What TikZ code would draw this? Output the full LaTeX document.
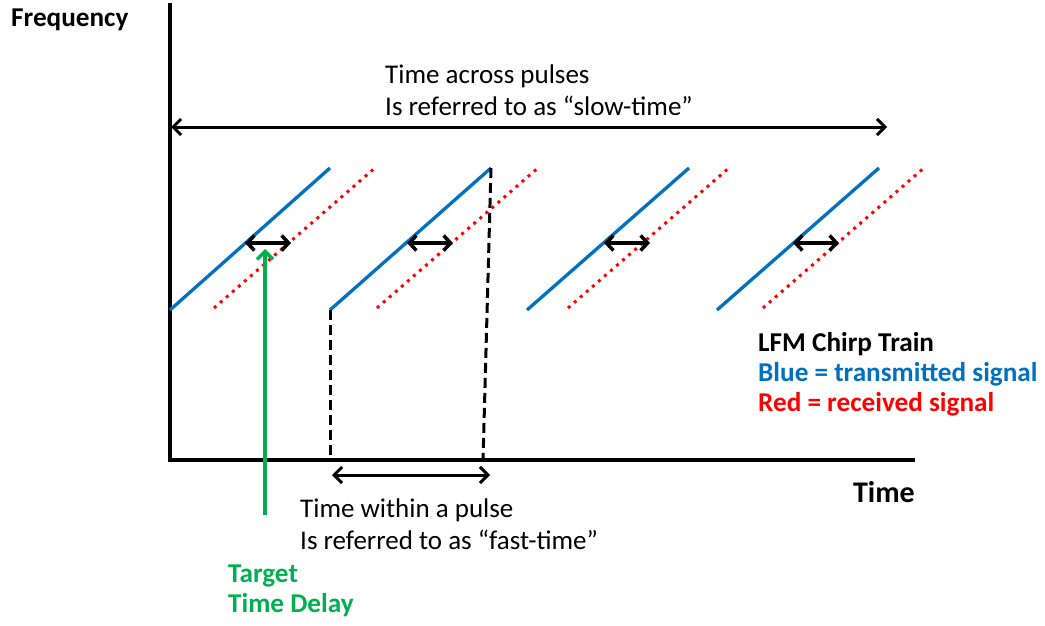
\documentclass[tikz,border=0pt]{standalone}
\usepackage{fontspec}
\setmainfont{Carlito}
\usetikzlibrary{arrows.meta}
\definecolor{txblue}{HTML}{0070C0}
\definecolor{rxred}{HTML}{FF0000}
\definecolor{tgreen}{HTML}{00B050}
\begin{document}
\begin{tikzpicture}[x=1pt,y=-1pt,
  axis/.style={line width=3.5pt},
  tx/.style={line width=3.3pt,txblue},
  rx/.style={line width=3pt,rxred,dash pattern=on 3pt off 5pt},
  delay/.style={line width=3.5pt,{Straight Barb[length=7pt,width=15pt]}-{Straight Barb[length=7pt,width=15pt]}},
  span/.style={line width=3pt,{Straight Barb[length=8pt,width=16pt]}-{Straight Barb[length=8pt,width=16pt]}},
  guide/.style={line width=3pt,dash pattern=on 10pt off 5pt},
  lbl/.style={font=\fontsize{27}{31}\selectfont,inner sep=0pt,anchor=base west},
  blbl/.style={font=\fontsize{27.2}{31}\selectfont\bfseries,inner sep=0pt,anchor=base west}
]
\useasboundingbox (0,0) rectangle (1045,626);
% axes
\coordinate (ytop) at (170,3);
\coordinate (orig) at (170,460);
\coordinate (xend) at (915,460);
\draw[axis] (ytop) -- (orig) -- (xend);
% slow-time arrow
\coordinate (s1) at (171,127);
\coordinate (s2) at (887,127);
\draw[span] (s1) -- (s2);
\node[lbl] (slow1) at (385,84) {Time across pulses};
\node[lbl] (slow2) at (385,115.5) {Is referred to as “slow-time”};
% chirps
\coordinate (b1a) at (170,310); \coordinate (b1b) at (330,168);
\coordinate (b2a) at (330,310); \coordinate (b2b) at (491,168);
\coordinate (b3a) at (527,310); \coordinate (b3b) at (689,168);
\coordinate (b4a) at (717,310); \coordinate (b4b) at (879,168);
\coordinate (r1a) at (214,308); \coordinate (r1b) at (376,167);
\coordinate (r2a) at (377,308); \coordinate (r2b) at (539,167);
\coordinate (r3a) at (568,308); \coordinate (r3b) at (730,167);
\coordinate (r4a) at (763,308); \coordinate (r4b) at (925,167);
\foreach \i in {1,2,3,4}{
  \draw[rx] (r\i a) -- (r\i b);
  \draw[tx] (b\i a) -- (b\i b);
}
% delay arrows
\coordinate (d1a) at (245,243); \coordinate (d1b) at (291,243);
\coordinate (d2a) at (407,243); \coordinate (d2b) at (453,243);
\coordinate (d3a) at (604,243); \coordinate (d3b) at (650,243);
\coordinate (d4a) at (793,243); \coordinate (d4b) at (839,243);
\foreach \i in {1,2,3,4}{
  \draw[delay] (d\i a) -- (d\i b);
}
% pulse guides
\coordinate (g1) at (330,460);
\coordinate (g2) at (483,460);
\draw[guide] (b2a) -- (g1);
\draw[guide] (b2b) -- (g2);
% fast-time arrow
\coordinate (f1) at (332,475);
\coordinate (f2) at (490,475);
\draw[span] (f1) -- (f2);
\node[lbl] (fast1) at (300,517) {Time within a pulse};
\node[lbl] (fast2) at (300,549.5) {Is referred to as “fast-time”};
% target delay
\coordinate (tg0) at (265,515);
\coordinate (tg1) at (265,249);
\draw[line width=3.5pt,tgreen,-{Straight Barb[length=8pt,width=16pt]}] (tg0) -- (tg1);
\node[blbl,text=tgreen] (target1) at (228,582) {Target};
\node[blbl,text=tgreen] (target2) at (228,612) {Time Delay};
% axis labels
\node[blbl] (freq) at (11,27) {Frequency};
\node[font=\fontsize{30}{34}\selectfont\bfseries,inner sep=0pt,anchor=base east] (time) at (915,502) {Time};
% legend
\node[blbl] (leg1) at (758,351) {LFM Chirp Train};
\node[blbl,text=txblue] (leg2) at (758,381) {Blue = transmitted signal};
\node[blbl,text=rxred] (leg3) at (758,411) {Red = received signal};
\end{tikzpicture}
\end{document}
